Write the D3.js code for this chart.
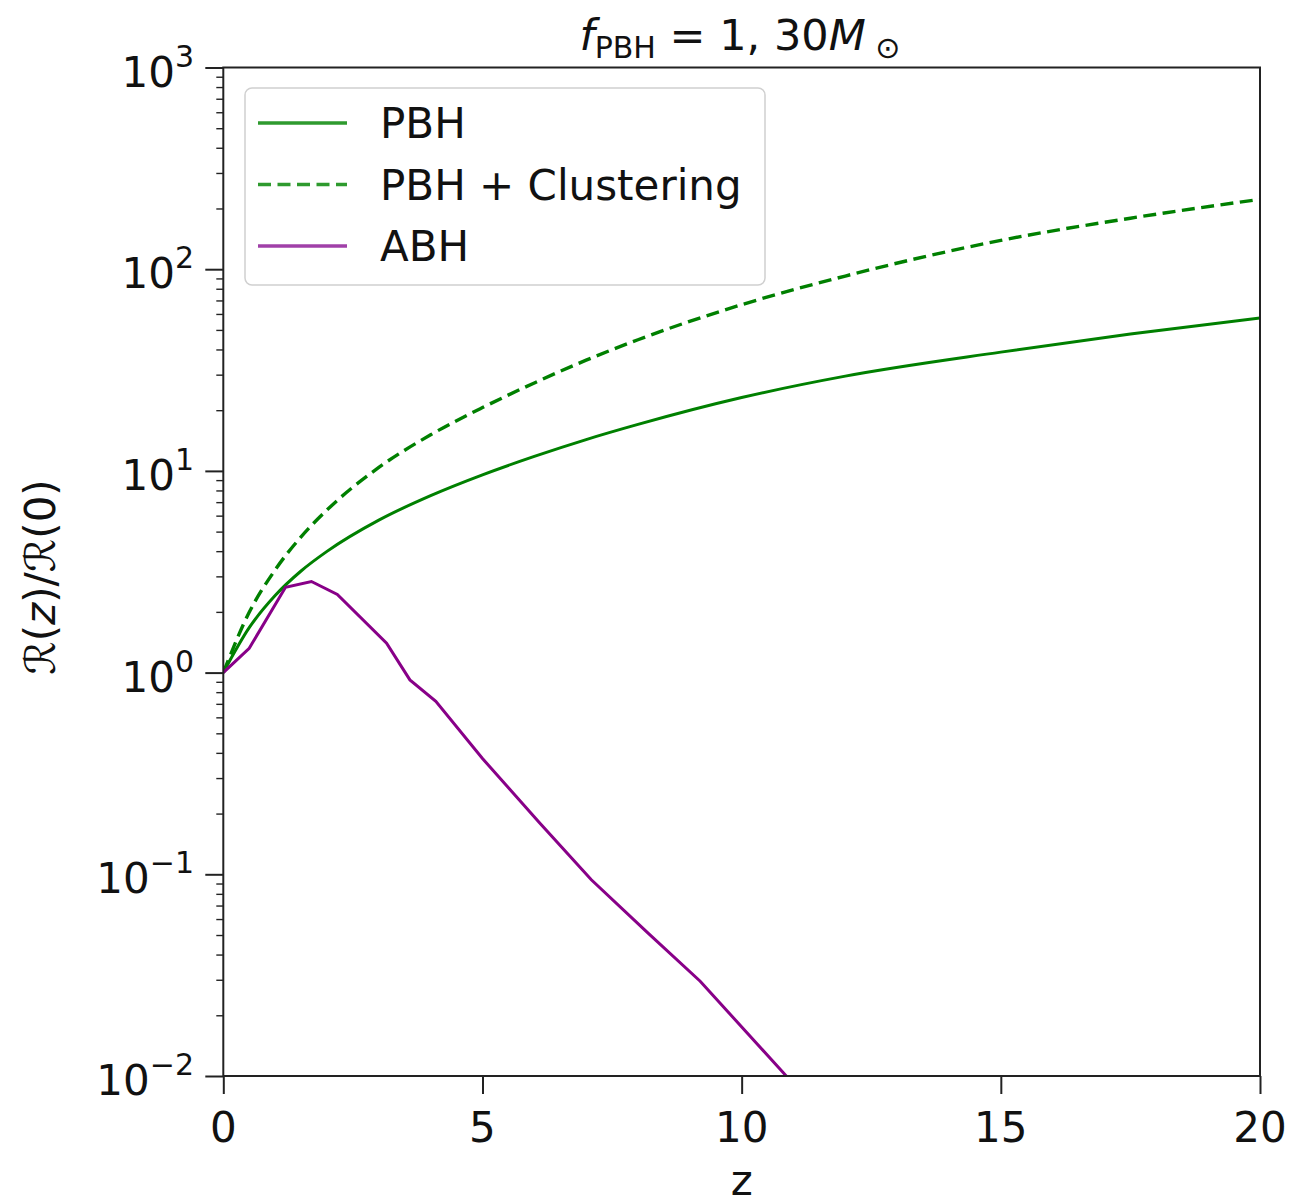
<!DOCTYPE html>
<html>
<head>
<meta charset="utf-8">
<script src="https://cdn.jsdelivr.net/npm/d3@7"></script>
<style>
  body { margin: 0; background: #fff; }
  svg text { font-family: "DejaVu Sans", sans-serif; fill: #111; }
</style>
</head>
<body>
<div id="canvas"></div>
<script>
// Chart size
const width = 1312;
const height = 1204;
const margin = {left: 223.3, right: 1260, top: 67.5, bottom: 1076};

// Data
const zPBH = [0, 0.5, 1, 1.5, 2, 3, 4, 5, 6, 7, 8, 10, 12, 15, 17.5, 20];
const ratePBH = [1.0, 1.67, 2.41, 3.19, 3.99, 5.7, 7.54, 9.56, 11.8, 14.3, 17.0, 23.1, 29.5, 38.8, 47.7, 57.3];
const rateCluster = [1.0, 1.99, 3.23, 4.71, 6.4, 10.4, 15.1, 20.6, 27.3, 35.4, 44.7, 66.7, 92.5, 139, 179, 222];

const zABH = [0, 0.5, 1.2, 1.7, 2.2, 3.15, 3.6, 4.1, 5.0, 6.1, 7.1, 8.2, 9.2, 10.8, 12];
const rateABH = [1.0, 1.32, 2.65, 2.83, 2.44, 1.40, 0.92, 0.72, 0.375, 0.18, 0.094, 0.051, 0.0295, 0.0104, 0.0047];

const xTicks = [0, 5, 10, 15, 20];
const yExponents = [-2, -1, 0, 1, 2, 3];
const legendLabels = ["PBH", "PBH + Clustering", "ABH"];

const colors = {
  green: "#008000",
  purple: "#880088",
  greenLegend: "#2e9a2e",
  purpleLegend: "#a040a8"
};

let svg = d3.select('#canvas').append('svg')
  .attr('width', width)
  .attr('height', height);

let x = d3.scaleLinear().domain([0, 20]).range([margin.left, margin.right]);
let y = d3.scaleLog().domain([1e-2, 1e3]).range([margin.bottom, margin.top]);

svg.append('defs').append('clipPath').attr('id', 'plotclip')
  .append('rect')
  .attr('x', margin.left).attr('y', margin.top)
  .attr('width', margin.right - margin.left)
  .attr('height', margin.bottom - margin.top);

// minor y ticks
let minorTicks = [];
yExponents.slice(0, -1).forEach(e => {
  for (let k = 2; k <= 9; k++) minorTicks.push(k * Math.pow(10, e));
});

svg.append('g')
  .attr('transform', `translate(${margin.left},0)`)
  .call(d3.axisLeft(y).tickValues(minorTicks).tickSize(7).tickFormat(''))
  .call(g => g.select('.domain').remove())
  .call(g => g.selectAll('line').attr('stroke', '#222').attr('stroke-width', 1.4));

// major y ticks
svg.append('g')
  .attr('transform', `translate(${margin.left},0)`)
  .call(d3.axisLeft(y).tickValues(yExponents.map(e => Math.pow(10, e))).tickSize(18).tickFormat(''))
  .call(g => g.select('.domain').remove())
  .call(g => g.selectAll('line').attr('stroke', '#222').attr('stroke-width', 2));

// y tick labels with superscripts
yExponents.forEach(e => {
  let t = svg.append('text')
    .attr('x', 194)
    .attr('y', y(Math.pow(10, e)) + 19)
    .attr('text-anchor', 'end')
    .attr('font-size', 42);
  t.append('tspan').text('10');
  t.append('tspan')
    .attr('font-size', 30)
    .attr('dy', -20)
    .text(e < 0 ? '\u2212' + (-e) : String(e));
});

// x axis
svg.append('g')
  .attr('transform', `translate(0,${margin.bottom})`)
  .call(d3.axisBottom(x).tickValues(xTicks).tickSize(18).tickFormat(''))
  .call(g => g.select('.domain').remove())
  .call(g => g.selectAll('line').attr('stroke', '#222').attr('stroke-width', 2));

svg.selectAll('.xlabel').data(xTicks).enter()
  .append('text')
  .attr('x', d => x(d))
  .attr('y', 1142)
  .attr('text-anchor', 'middle')
  .attr('font-size', 42)
  .text(d => d);

// curves
let line = d3.line()
  .x(d => x(d[0]))
  .y(d => y(d[1]))
  .curve(d3.curveMonotoneX);

let plot = svg.append('g').attr('clip-path', 'url(#plotclip)');

plot.append('path')
  .datum(d3.zip(zPBH, ratePBH))
  .attr('d', line)
  .attr('fill', 'none')
  .attr('stroke', colors.green)
  .attr('stroke-width', 3);

plot.append('path')
  .datum(d3.zip(zPBH, rateCluster))
  .attr('d', line)
  .attr('fill', 'none')
  .attr('stroke', colors.green)
  .attr('stroke-width', 3.4)
  .attr('stroke-dasharray', '13,6.5');

plot.append('path')
  .datum(d3.zip(zABH, rateABH))
  .attr('d', line.curve(d3.curveLinear))
  .attr('fill', 'none')
  .attr('stroke', colors.purple)
  .attr('stroke-width', 3);

// frame
svg.append('rect')
  .attr('x', margin.left).attr('y', margin.top)
  .attr('width', margin.right - margin.left)
  .attr('height', margin.bottom - margin.top)
  .attr('fill', 'none')
  .attr('stroke', '#222')
  .attr('stroke-width', 2);

// legend
let legend = svg.append('g');
legend.append('rect')
  .attr('x', 245).attr('y', 88)
  .attr('width', 520).attr('height', 197)
  .attr('rx', 7)
  .attr('fill', 'rgba(255,255,255,0.8)')
  .attr('stroke', '#d0d0d0')
  .attr('stroke-width', 1.5);

let legendStyles = [
  {color: colors.greenLegend, dash: null},
  {color: colors.greenLegend, dash: '13,6.5'},
  {color: colors.purpleLegend, dash: null}
];

legendLabels.forEach((label, i) => {
  let cy = 123 + i * 61.5;
  legend.append('line')
    .attr('x1', 258).attr('x2', 347)
    .attr('y1', cy).attr('y2', cy)
    .attr('stroke', legendStyles[i].color)
    .attr('stroke-width', 3.4)
    .attr('stroke-dasharray', legendStyles[i].dash);
  legend.append('text')
    .attr('x', 380)
    .attr('y', cy + 15)
    .attr('font-size', 42)
    .text(label);
});

// title
let title = svg.append('text')
  .attr('x', 740)
  .attr('y', 50)
  .attr('text-anchor', 'middle')
  .attr('font-size', 43);
title.append('tspan').attr('font-style', 'italic').text('f');
title.append('tspan').attr('font-size', 30).attr('dy', 8).text('PBH');
title.append('tspan').attr('dy', -8).text(' = 1, 30');
title.append('tspan').attr('font-style', 'italic').text('M');
title.append('tspan').attr('font-size', 30).attr('dy', 8).text(' \u2299');

// axis labels
svg.append('text')
  .attr('x', 741.7)
  .attr('y', 1195)
  .attr('text-anchor', 'middle')
  .attr('font-size', 42)
  .text('z');

let ylab = svg.append('text')
  .attr('transform', 'translate(55,577) rotate(-90)')
  .attr('text-anchor', 'middle')
  .attr('font-size', 42);
ylab.append('tspan').text('\u211B(');
ylab.append('tspan').attr('font-style', 'italic').text('z');
ylab.append('tspan').text(')/\u211B(0)');
</script>
</body>
</html>
